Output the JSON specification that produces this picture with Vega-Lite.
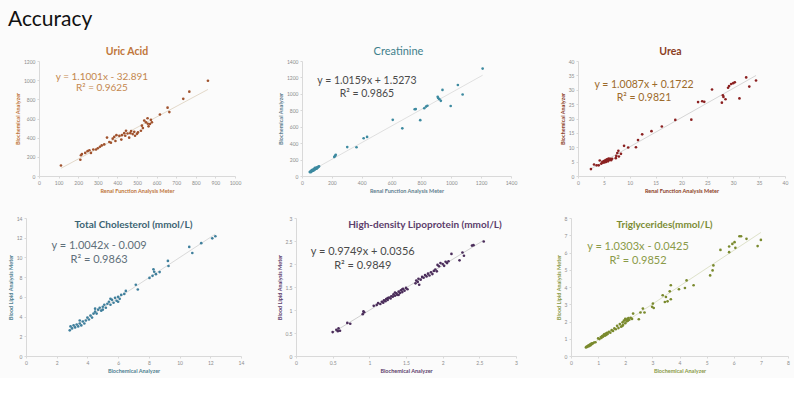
{
  "$schema": "https://vega.github.io/schema/vega-lite/v6.json",
  "background": "#fbfbfb",
  "padding": {"left": -30, "top": 9, "right": 4, "bottom": 4},
  "title": {"text": "Accuracy", "anchor": "start", "fontSize": 21, "font": "Lato", "fontWeight": "normal", "color": "#111111", "offset": 16, "dx": 38},
  "config": {
    "view": {"stroke": null},
    "axis": {"grid": false, "labelFontSize": 5, "titleFontSize": 5.5, "labelColor": "#8c8c8c", "domainColor": "#d9d9d9", "tickColor": "#d9d9d9", "tickSize": 2, "labelPadding": 2, "titlePadding": 3, "labelFont": "Lato", "titleFont": "Lato", "labelFlush": false, "labelOverlap": false}
  },
  "datasets": {
    "uric": [
      {"x":112,"y":110},{"x":211,"y":170},{"x":214,"y":216},{"x":219,"y":230},{"x":236,"y":241},{"x":248,"y":259},{"x":257,"y":269},{"x":265,"y":241},{"x":277,"y":277},{"x":291,"y":277},{"x":300,"y":290},{"x":311,"y":305},{"x":320,"y":319},{"x":333,"y":330},{"x":347,"y":401},{"x":359,"y":355},{"x":367,"y":347},{"x":376,"y":390},{"x":384,"y":408},{"x":390,"y":365},{"x":395,"y":426},{"x":410,"y":418},{"x":420,"y":380},{"x":423,"y":426},{"x":435,"y":447},{"x":440,"y":420},{"x":444,"y":472},{"x":452,"y":443},{"x":460,"y":400},{"x":466,"y":447},{"x":470,"y":470},{"x":478,"y":437},{"x":486,"y":461},{"x":490,"y":420},{"x":500,"y":440},{"x":505,"y":455},{"x":520,"y":472},{"x":525,"y":525},{"x":530,"y":500},{"x":537,"y":578},{"x":546,"y":560},{"x":554,"y":603},{"x":555,"y":545},{"x":559,"y":518},{"x":566,"y":543},{"x":571,"y":586},{"x":576,"y":560},{"x":617,"y":642},{"x":656,"y":713},{"x":665,"y":667},{"x":736,"y":805},{"x":767,"y":880},{"x":862,"y":994}
    ],
    "creat": [
      {"x":52,"y":48},{"x":55,"y":52},{"x":58,"y":50},{"x":60,"y":58},{"x":62,"y":55},{"x":64,"y":62},{"x":66,"y":60},{"x":68,"y":66},{"x":70,"y":64},{"x":72,"y":70},{"x":74,"y":68},{"x":75,"y":75},{"x":78,"y":72},{"x":80,"y":80},{"x":82,"y":78},{"x":84,"y":84},{"x":86,"y":82},{"x":88,"y":90},{"x":90,"y":86},{"x":92,"y":94},{"x":94,"y":92},{"x":96,"y":98},{"x":98,"y":96},{"x":100,"y":102},{"x":103,"y":100},{"x":106,"y":108},{"x":110,"y":112},{"x":114,"y":118},{"x":60,"y":48},{"x":70,"y":75},{"x":80,"y":70},{"x":90,"y":100},{"x":100,"y":92},{"x":65,"y":70},{"x":85,"y":95},
      {"x":216,"y":232},{"x":222,"y":245},{"x":226,"y":258},{"x":303,"y":352},{"x":365,"y":350},{"x":413,"y":460},{"x":436,"y":476},{"x":608,"y":684},{"x":672,"y":580},{"x":755,"y":812},{"x":762,"y":815},{"x":792,"y":680},{"x":819,"y":825},{"x":831,"y":845},{"x":840,"y":855},{"x":909,"y":965},{"x":912,"y":950},{"x":920,"y":935},{"x":930,"y":915},{"x":941,"y":1048},{"x":996,"y":852},{"x":1044,"y":1108},{"x":1076,"y":992},{"x":1210,"y":1308}
    ],
    "urea": [
      {"x":2.5,"y":2.4},{"x":3.1,"y":4.0},{"x":3.6,"y":3.7},{"x":4.0,"y":3.7},{"x":4.2,"y":5.4},{"x":4.5,"y":4.3},{"x":4.7,"y":4.9},{"x":4.8,"y":4.6},{"x":5.0,"y":5.2},{"x":5.1,"y":4.7},{"x":5.2,"y":5.0},{"x":5.3,"y":5.5},{"x":5.4,"y":4.9},{"x":5.5,"y":5.3},{"x":5.6,"y":5.8},{"x":5.8,"y":5.1},{"x":5.9,"y":6.1},{"x":6.0,"y":5.6},{"x":6.2,"y":6.0},{"x":6.4,"y":5.5},{"x":6.6,"y":6.0},{"x":7.3,"y":6.2},{"x":7.4,"y":7.0},{"x":7.6,"y":8.0},{"x":7.8,"y":8.8},{"x":7.9,"y":6.8},{"x":8.3,"y":7.7},{"x":8.9,"y":10.5},{"x":9.7,"y":9.9},{"x":11.2,"y":10.0},{"x":11.6,"y":12.5},{"x":12.4,"y":14.5},{"x":14.2,"y":15.6},{"x":16.2,"y":17.2},{"x":18.8,"y":19.5},{"x":21.9,"y":19.6},{"x":23.2,"y":25.7},{"x":24.0,"y":26.0},{"x":24.4,"y":25.8},{"x":25.9,"y":30.1},{"x":27.8,"y":25.5},{"x":28.0,"y":28.1},{"x":28.1,"y":27.5},{"x":28.5,"y":26.7},{"x":29.0,"y":30.7},{"x":29.2,"y":31.3},{"x":29.6,"y":32.0},{"x":30.0,"y":32.3},{"x":30.3,"y":32.6},{"x":31.2,"y":27.0},{"x":32.5,"y":34.3},{"x":33.1,"y":31.1},{"x":34.4,"y":33.2}
    ],
    "tc": [
      {"x":2.85,"y":2.6},{"x":2.9,"y":3.0},{"x":3.0,"y":2.8},{"x":3.1,"y":3.1},{"x":3.2,"y":2.9},{"x":3.3,"y":3.2},{"x":3.4,"y":3.0},{"x":3.5,"y":3.3},{"x":3.5,"y":3.6},{"x":3.6,"y":3.1},{"x":3.7,"y":3.5},{"x":3.8,"y":3.3},{"x":3.9,"y":3.6},{"x":4.0,"y":3.9},{"x":4.1,"y":3.7},{"x":4.2,"y":4.1},{"x":4.3,"y":3.9},{"x":4.4,"y":4.3},{"x":4.5,"y":4.5},{"x":4.5,"y":4.8},{"x":4.6,"y":4.3},{"x":4.7,"y":4.7},{"x":4.8,"y":4.9},{"x":4.9,"y":4.6},{"x":5.0,"y":5.0},{"x":5.0,"y":4.7},{"x":5.1,"y":5.2},{"x":5.2,"y":4.9},{"x":5.3,"y":5.3},{"x":5.4,"y":5.5},{"x":5.5,"y":5.2},{"x":5.5,"y":5.8},{"x":5.6,"y":5.7},{"x":5.7,"y":5.4},{"x":5.8,"y":5.9},{"x":5.9,"y":5.6},{"x":6.0,"y":6.0},{"x":6.0,"y":5.5},{"x":6.1,"y":5.8},{"x":6.2,"y":6.2},{"x":6.4,"y":6.3},{"x":6.5,"y":6.6},
      {"x":7.15,"y":7.23},{"x":7.28,"y":6.75},{"x":8.04,"y":7.92},{"x":8.24,"y":8.13},{"x":8.3,"y":8.79},{"x":8.35,"y":8.55},{"x":8.46,"y":8.3},{"x":8.7,"y":8.51},{"x":9.24,"y":9.65},{"x":9.28,"y":9.13},{"x":10.63,"y":11.07},{"x":10.83,"y":10.45},{"x":11.41,"y":11.45},{"x":12.13,"y":11.94},{"x":12.33,"y":12.15}
    ],
    "hdl": [
      {"x":0.50,"y":0.52},{"x":0.55,"y":0.57},{"x":0.57,"y":0.54},{"x":0.60,"y":0.55},{"x":0.58,"y":0.60},{"x":0.70,"y":0.72},{"x":0.74,"y":0.70},{"x":0.91,"y":0.91},{"x":0.92,"y":0.97},{"x":0.93,"y":0.95},{"x":1.06,"y":1.09},{"x":1.10,"y":1.11},{"x":1.12,"y":1.15},{"x":1.15,"y":1.13},{"x":1.17,"y":1.18},{"x":1.19,"y":1.16},{"x":1.20,"y":1.21},{"x":1.22,"y":1.19},{"x":1.23,"y":1.24},{"x":1.25,"y":1.22},{"x":1.25,"y":1.26},{"x":1.27,"y":1.27},{"x":1.29,"y":1.25},{"x":1.30,"y":1.30},{"x":1.32,"y":1.29},{"x":1.33,"y":1.34},{"x":1.35,"y":1.31},{"x":1.35,"y":1.38},{"x":1.37,"y":1.36},{"x":1.38,"y":1.33},{"x":1.40,"y":1.40},{"x":1.40,"y":1.33},{"x":1.42,"y":1.37},{"x":1.43,"y":1.43},{"x":1.45,"y":1.39},{"x":1.45,"y":1.45},{"x":1.46,"y":1.46},{"x":1.48,"y":1.42},{"x":1.50,"y":1.48},{"x":1.52,"y":1.45},{"x":1.63,"y":1.58},{"x":1.64,"y":1.64},{"x":1.66,"y":1.61},{"x":1.67,"y":1.68},{"x":1.68,"y":1.55},{"x":1.70,"y":1.66},{"x":1.72,"y":1.72},{"x":1.74,"y":1.70},{"x":1.76,"y":1.76},{"x":1.78,"y":1.73},{"x":1.80,"y":1.79},{"x":1.82,"y":1.75},{"x":1.84,"y":1.82},{"x":1.86,"y":1.78},{"x":1.88,"y":1.85},{"x":1.90,"y":1.88},{"x":1.92,"y":1.84},{"x":1.93,"y":1.98},{"x":1.95,"y":1.95},{"x":1.97,"y":2.02},{"x":2.00,"y":2.00},{"x":2.02,"y":1.96},{"x":2.04,"y":2.05},{"x":2.06,"y":2.02},{"x":2.08,"y":2.06},{"x":2.12,"y":2.22},{"x":2.23,"y":2.08},{"x":2.27,"y":2.25},{"x":2.29,"y":2.18},{"x":2.40,"y":2.40},{"x":2.42,"y":2.41},{"x":2.56,"y":2.49}
    ],
    "tg": [
      {"x":0.55,"y":0.5},{"x":0.58,"y":0.55},{"x":0.6,"y":0.52},{"x":0.62,"y":0.58},{"x":0.64,"y":0.6},{"x":0.66,"y":0.57},{"x":0.68,"y":0.63},{"x":0.7,"y":0.66},{"x":0.72,"y":0.62},{"x":0.74,"y":0.7},{"x":0.76,"y":0.68},{"x":0.78,"y":0.74},{"x":0.8,"y":0.72},{"x":0.85,"y":0.78},{"x":0.9,"y":0.8},
      {"x":1.0,"y":1.02},{"x":1.05,"y":0.98},{"x":1.1,"y":1.1},{"x":1.12,"y":1.05},{"x":1.15,"y":1.15},{"x":1.18,"y":1.12},{"x":1.2,"y":1.2},{"x":1.22,"y":1.25},{"x":1.25,"y":1.18},{"x":1.28,"y":1.3},{"x":1.3,"y":1.22},{"x":1.33,"y":1.35},{"x":1.35,"y":1.28},{"x":1.4,"y":1.4},{"x":1.45,"y":1.35},{"x":1.5,"y":1.5},{"x":1.55,"y":1.45},{"x":1.6,"y":1.6},
      {"x":1.65,"y":1.55},{"x":1.7,"y":1.75},{"x":1.75,"y":1.62},{"x":1.8,"y":1.85},{"x":1.85,"y":1.7},{"x":1.9,"y":1.95},{"x":1.9,"y":1.75},{"x":1.92,"y":1.8},{"x":1.95,"y":2.05},{"x":2.0,"y":1.9},{"x":2.0,"y":2.15},{"x":2.02,"y":2.1},{"x":2.05,"y":2.0},{"x":2.08,"y":2.15},{"x":2.1,"y":2.05},{"x":2.12,"y":2.2},{"x":2.15,"y":2.1},{"x":2.2,"y":2.22},{"x":2.25,"y":2.15},
      {"x":2.29,"y":2.46},{"x":2.5,"y":2.13},{"x":2.56,"y":2.52},{"x":2.65,"y":2.75},{"x":2.71,"y":2.52},{"x":2.99,"y":2.85},{"x":3.02,"y":3.04},{"x":3.05,"y":2.78},{"x":3.38,"y":3.52},{"x":3.46,"y":3.13},{"x":3.5,"y":3.42},{"x":3.56,"y":3.17},{"x":3.64,"y":3.75},{"x":3.68,"y":4.1},{"x":3.68,"y":3.29},{"x":3.98,"y":3.87},{"x":4.2,"y":3.94},{"x":4.26,"y":4.38},{"x":4.52,"y":4.1},{"x":5.13,"y":4.67},{"x":5.22,"y":4.96},{"x":5.25,"y":5.25},{"x":5.51,"y":6.15},{"x":5.83,"y":6.02},{"x":5.83,"y":6.35},{"x":5.95,"y":6.5},{"x":6.03,"y":6.6},{"x":6.06,"y":6.27},{"x":6.21,"y":6.94},{"x":6.27,"y":6.94},{"x":6.47,"y":6.79},{"x":6.88,"y":6.37},{"x":7.0,"y":6.73}
    ]
  },
  "vconcat": [
    {
      "hconcat": [
        {"width": 2, "height": 1, "data": {"values": []}, "mark": {"type": "point", "opacity": 0}, "encoding": {}},
        {
          "width": 196, "height": 115,
          "title": {"text": "Uric Acid", "color": "#c0763a", "fontSize": 10.5, "fontWeight": "bold", "font": "Lato", "offset": 2, "dx": -10},
          "data": {"name": "uric"},
          "layer": [
            {"mark": {"type": "line", "color": "#dccfbd", "strokeWidth": 0.8}, "transform": [{"regression": "y", "on": "x"}],
             "encoding": {
               "x": {"field": "x", "type": "quantitative", "scale": {"domain": [0, 1000]}, "axis": {"values": [0,100,200,300,400,500,600,700,800,900,1000], "tickCount": 11, "format": "d", "titleColor": "#c0763a", "titleFontWeight": "bold"}, "title": "Renal Function Analysis Meter"},
               "y": {"field": "y", "type": "quantitative", "scale": {"domain": [0, 1200]}, "axis": {"values": [0,200,400,600,800,1000,1200], "tickCount": 7, "format": "d", "titleColor": "#c0763a", "titleFontWeight": "bold"}, "title": "Biochemical Analyzer"}
             }},
            {"mark": {"type": "circle", "size": 7, "color": "#a0522d", "opacity": 1}, "encoding": {"x": {"field": "x", "type": "quantitative"}, "y": {"field": "y", "type": "quantitative"}}},
            {"data": {"values": [{}]}, "mark": {"type": "text", "text": ["y = 1.1001x - 32.891", "R² = 0.9625"], "fontSize": 10, "color": "#c4874e", "font": "Lato", "lineHeight": 11, "align": "center", "baseline": "middle"},
             "encoding": {"x": {"datum": 321, "type": "quantitative"}, "y": {"datum": 1028, "type": "quantitative"}}}
          ]
        },
        {
          "width": 209, "height": 115,
          "title": {"text": "Creatinine", "color": "#3f7f8c", "fontSize": 11, "fontWeight": "normal", "font": "Lato", "offset": 2, "dx": -8},
          "data": {"name": "creat"},
          "layer": [
            {"mark": {"type": "line", "color": "#d8d8d8", "strokeWidth": 0.8}, "transform": [{"regression": "y", "on": "x"}],
             "encoding": {
               "x": {"field": "x", "type": "quantitative", "scale": {"domain": [0, 1400]}, "axis": {"values": [0,200,400,600,800,1000,1200,1400], "tickCount": 8, "format": "d", "titleColor": "#5f7f8f"}, "title": "Renal Function Analysis Meter"},
               "y": {"field": "y", "type": "quantitative", "scale": {"domain": [0, 1400]}, "axis": {"values": [0,200,400,600,800,1000,1200,1400], "tickCount": 8, "format": "d", "titleColor": "#5f7f8f"}, "title": "Biochemical Analyzer"}
             }},
            {"mark": {"type": "circle", "size": 7, "color": "#3d8aa0", "opacity": 1}, "encoding": {"x": {"field": "x", "type": "quantitative"}, "y": {"field": "y", "type": "quantitative"}}},
            {"data": {"values": [{}]}, "mark": {"type": "text", "text": ["y = 1.0159x + 1.5273", "R² = 0.9865"], "fontSize": 10.5, "color": "#4a4a4a", "font": "Lato", "lineHeight": 13, "align": "center", "baseline": "middle"},
             "encoding": {"x": {"datum": 435, "type": "quantitative"}, "y": {"datum": 1151, "type": "quantitative"}}}
          ]
        },
        {
          "width": 207, "height": 115,
          "title": {"text": "Urea", "color": "#8b3e1f", "fontSize": 10.5, "fontWeight": "bold", "font": "Lato", "offset": 2, "dx": -11},
          "data": {"name": "urea"},
          "layer": [
            {"mark": {"type": "line", "color": "#cccccc", "strokeWidth": 0.8}, "transform": [{"regression": "y", "on": "x"}],
             "encoding": {
               "x": {"field": "x", "type": "quantitative", "scale": {"domain": [0, 40]}, "axis": {"values": [0,5,10,15,20,25,30,35,40], "tickCount": 9, "format": "d", "titleColor": "#8b3e1f", "titleFontWeight": "bold"}, "title": "Renal Function Analysis Meter"},
               "y": {"field": "y", "type": "quantitative", "scale": {"domain": [0, 40]}, "axis": {"values": [0,5,10,15,20,25,30,35,40], "tickCount": 9, "format": "d", "titleColor": "#8b3e1f", "titleFontWeight": "bold"}, "title": "Biochemical Analyzer"}
             }},
            {"mark": {"type": "circle", "size": 7, "color": "#8b2020", "opacity": 1}, "encoding": {"x": {"field": "x", "type": "quantitative"}, "y": {"field": "y", "type": "quantitative"}}},
            {"data": {"values": [{}]}, "mark": {"type": "text", "text": ["y = 1.0087x + 0.1722", "R² = 0.9821"], "fontSize": 10.5, "color": "#9c6a2a", "font": "Lato", "lineHeight": 13, "align": "center", "baseline": "middle"},
             "encoding": {"x": {"datum": 12.75, "type": "quantitative"}, "y": {"datum": 31.8, "type": "quantitative"}}}
          ]
        }
      ],
      "spacing": 67, "bounds": "flush"
    },
    {
      "hconcat": [
        {"width": 1, "height": 1, "data": {"values": []}, "mark": {"type": "point", "opacity": 0}, "encoding": {}},
        {
          "width": 215, "height": 138,
          "title": {"text": "Total Cholesterol (mmol/L)", "color": "#3b6473", "fontSize": 10, "fontWeight": "bold", "font": "Lato", "offset": -9, "dy": 5, "dx": 0},
          "data": {"name": "tc"},
          "layer": [
            {"mark": {"type": "line", "color": "#d0d0d0", "strokeWidth": 0.8}, "transform": [{"regression": "y", "on": "x"}],
             "encoding": {
               "x": {"field": "x", "type": "quantitative", "scale": {"domain": [0, 14]}, "axis": {"values": [0,2,4,6,8,10,12,14], "tickCount": 8, "format": "d", "titleColor": "#4f7f90"}, "title": "Biochemical  Analyzer"},
               "y": {"field": "y", "type": "quantitative", "scale": {"domain": [0, 14]}, "axis": {"values": [0,2,4,6,8,10,12,14], "tickCount": 8, "format": "d", "titleColor": "#4f7f90"}, "title": "Blood Lipid Analysis Meter"}
             }},
            {"mark": {"type": "circle", "size": 7, "color": "#3f7f9c", "opacity": 1}, "encoding": {"x": {"field": "x", "type": "quantitative"}, "y": {"field": "y", "type": "quantitative"}}},
            {"data": {"values": [{}]}, "mark": {"type": "text", "text": ["y = 1.0042x - 0.009", "R² = 0.9863"], "fontSize": 11, "color": "#5f6f7a", "font": "Lato", "lineHeight": 14, "align": "center", "baseline": "middle"},
             "encoding": {"x": {"datum": 4.76, "type": "quantitative"}, "y": {"datum": 11.16, "type": "quantitative"}}}
          ]
        },
        {
          "width": 220, "height": 138,
          "title": {"text": "High-density Lipoprotein (mmol/L)", "color": "#5b3d6b", "fontSize": 10, "fontWeight": "bold", "font": "Lato", "offset": -9, "dy": 5, "dx": 19},
          "data": {"name": "hdl"},
          "layer": [
            {"mark": {"type": "line", "color": "#c4c4c4", "strokeWidth": 0.8}, "transform": [{"regression": "y", "on": "x"}],
             "encoding": {
               "x": {"field": "x", "type": "quantitative", "scale": {"domain": [0, 3]}, "axis": {"values": [0,0.5,1,1.5,2,2.5,3], "tickCount": 7, "format": ".1~f", "titleColor": "#5b3d6b", "titleFontWeight": "bold"}, "title": "Biochemical  Analyzer"},
               "y": {"field": "y", "type": "quantitative", "scale": {"domain": [0, 3]}, "axis": {"values": [0,0.5,1,1.5,2,2.5,3], "tickCount": 7, "format": ".1~f", "titleColor": "#5b3d6b", "titleFontWeight": "bold"}, "title": "Blood Lipid Analysis Meter"}
             }},
            {"mark": {"type": "circle", "size": 7, "color": "#4b2d5b", "opacity": 1}, "encoding": {"x": {"field": "x", "type": "quantitative"}, "y": {"field": "y", "type": "quantitative"}}},
            {"data": {"values": [{}]}, "mark": {"type": "text", "text": ["y = 0.9749x + 0.0356", "R² = 0.9849"], "fontSize": 11, "color": "#4a4a4a", "font": "Lato", "lineHeight": 14, "align": "center", "baseline": "middle"},
             "encoding": {"x": {"datum": 0.91, "type": "quantitative"}, "y": {"datum": 2.26, "type": "quantitative"}}}
          ]
        },
        {
          "width": 217, "height": 138,
          "title": {"text": "Triglycerides(mmol/L)", "color": "#7c8c35", "fontSize": 10, "fontWeight": "bold", "font": "Lato", "offset": -9, "dy": 5, "dx": -15},
          "data": {"name": "tg"},
          "layer": [
            {"mark": {"type": "line", "color": "#d6dabc", "strokeWidth": 0.8}, "transform": [{"regression": "y", "on": "x"}],
             "encoding": {
               "x": {"field": "x", "type": "quantitative", "scale": {"domain": [0, 8]}, "axis": {"values": [0,1,2,3,4,5,6,7,8], "tickCount": 9, "format": "d", "titleColor": "#8a9a48"}, "title": "Biochemical  Analyzer"},
               "y": {"field": "y", "type": "quantitative", "scale": {"domain": [0, 8]}, "axis": {"values": [0,1,2,3,4,5,6,7,8], "tickCount": 9, "format": "d", "titleColor": "#8a9a48"}, "title": "Blood Lipid Analysis Meter"}
             }},
            {"mark": {"type": "circle", "size": 7, "color": "#7a8a2e", "opacity": 1}, "encoding": {"x": {"field": "x", "type": "quantitative"}, "y": {"field": "y", "type": "quantitative"}}},
            {"data": {"values": [{}]}, "mark": {"type": "text", "text": ["y = 1.0303x - 0.0425", "R² = 0.9852"], "fontSize": 11, "color": "#8a9a48", "font": "Lato", "lineHeight": 14, "align": "center", "baseline": "middle"},
             "encoding": {"x": {"datum": 2.47, "type": "quantitative"}, "y": {"datum": 6.32, "type": "quantitative"}}}
          ]
        }
      ],
      "spacing": 55, "bounds": "flush"
    }
  ],
  "spacing": 22
}
